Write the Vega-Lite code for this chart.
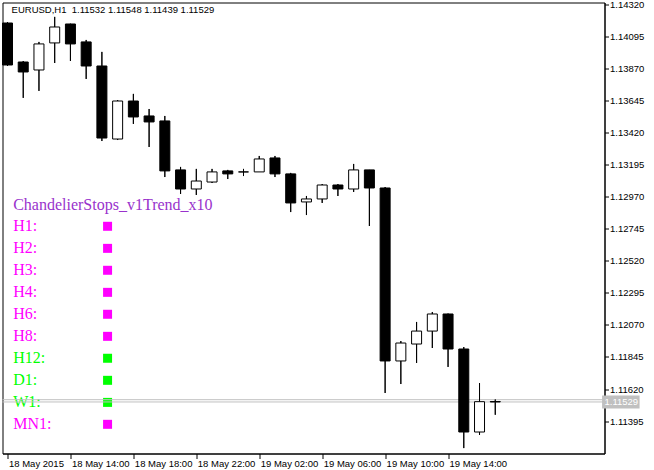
{
  "$schema": "https://vega.github.io/schema/vega-lite/v6.json",
  "width": 602,
  "height": 451,
  "autosize": {"type": "none"},
  "padding": {"left": 2.5, "top": 2.5, "right": 49.5, "bottom": 16.5},
  "background": "white",
  "config": {
    "view": {"stroke": "black", "strokeWidth": 1},
    "axis": {"grid": false, "domainColor": "black", "tickColor": "black", "labelColor": "black", "labelFont": "Liberation Sans", "labelFontSize": 9.5}
  },
  "datasets": {
    "candles": [
      {"i": 0, "time": "2015-05-18 10:00", "open": 1.14191, "high": 1.14198, "low": 1.13889, "close": 1.13896},
      {"i": 1, "time": "2015-05-18 11:00", "open": 1.13917, "high": 1.13924, "low": 1.13665, "close": 1.13847},
      {"i": 2, "time": "2015-05-18 12:00", "open": 1.13861, "high": 1.14058, "low": 1.13714, "close": 1.14044},
      {"i": 3, "time": "2015-05-18 13:00", "open": 1.14051, "high": 1.14234, "low": 1.13910, "close": 1.14163},
      {"i": 4, "time": "2015-05-18 14:00", "open": 1.14184, "high": 1.14186, "low": 1.13924, "close": 1.14044},
      {"i": 5, "time": "2015-05-18 15:00", "open": 1.14058, "high": 1.14072, "low": 1.13798, "close": 1.13889},
      {"i": 6, "time": "2015-05-18 16:00", "open": 1.13889, "high": 1.13988, "low": 1.13362, "close": 1.13383},
      {"i": 7, "time": "2015-05-18 17:00", "open": 1.13376, "high": 1.13650, "low": 1.13369, "close": 1.13643},
      {"i": 8, "time": "2015-05-18 18:00", "open": 1.13643, "high": 1.13693, "low": 1.13482, "close": 1.13531},
      {"i": 9, "time": "2015-05-18 19:00", "open": 1.13538, "high": 1.13587, "low": 1.13320, "close": 1.13496},
      {"i": 10, "time": "2015-05-18 20:00", "open": 1.13503, "high": 1.13538, "low": 1.13109, "close": 1.13152},
      {"i": 11, "time": "2015-05-18 21:00", "open": 1.13159, "high": 1.13180, "low": 1.12990, "close": 1.13025},
      {"i": 12, "time": "2015-05-18 22:00", "open": 1.13025, "high": 1.13166, "low": 1.12983, "close": 1.13081},
      {"i": 13, "time": "2015-05-18 23:00", "open": 1.13074, "high": 1.13166, "low": 1.13067, "close": 1.13145},
      {"i": 14, "time": "2015-05-19 00:00", "open": 1.13152, "high": 1.13159, "low": 1.13095, "close": 1.13131},
      {"i": 15, "time": "2015-05-19 01:00", "open": 1.13145, "high": 1.13166, "low": 1.13116, "close": 1.13145},
      {"i": 16, "time": "2015-05-19 02:00", "open": 1.13145, "high": 1.13257, "low": 1.13145, "close": 1.13236},
      {"i": 17, "time": "2015-05-19 03:00", "open": 1.13243, "high": 1.13257, "low": 1.13109, "close": 1.13131},
      {"i": 18, "time": "2015-05-19 04:00", "open": 1.13131, "high": 1.13138, "low": 1.12863, "close": 1.12927},
      {"i": 19, "time": "2015-05-19 05:00", "open": 1.12934, "high": 1.12976, "low": 1.12842, "close": 1.12955},
      {"i": 20, "time": "2015-05-19 06:00", "open": 1.12955, "high": 1.13060, "low": 1.12927, "close": 1.13053},
      {"i": 21, "time": "2015-05-19 07:00", "open": 1.13053, "high": 1.13060, "low": 1.12976, "close": 1.13025},
      {"i": 22, "time": "2015-05-19 08:00", "open": 1.13025, "high": 1.13201, "low": 1.13004, "close": 1.13159},
      {"i": 23, "time": "2015-05-19 09:00", "open": 1.13159, "high": 1.13159, "low": 1.12765, "close": 1.13032},
      {"i": 24, "time": "2015-05-19 10:00", "open": 1.13032, "high": 1.13039, "low": 1.11592, "close": 1.11817},
      {"i": 25, "time": "2015-05-19 11:00", "open": 1.11817, "high": 1.11957, "low": 1.11655, "close": 1.11943},
      {"i": 26, "time": "2015-05-19 12:00", "open": 1.11936, "high": 1.12091, "low": 1.11803, "close": 1.12027},
      {"i": 27, "time": "2015-05-19 13:00", "open": 1.12027, "high": 1.12161, "low": 1.11908, "close": 1.12147},
      {"i": 28, "time": "2015-05-19 14:00", "open": 1.12147, "high": 1.12150, "low": 1.11775, "close": 1.11901},
      {"i": 29, "time": "2015-05-19 15:00", "open": 1.11901, "high": 1.11915, "low": 1.11205, "close": 1.11318},
      {"i": 30, "time": "2015-05-19 16:00", "open": 1.11318, "high": 1.11662, "low": 1.11297, "close": 1.11531},
      {"i": 31, "time": "2015-05-19 17:00", "open": 1.11532, "high": 1.11548, "low": 1.11439, "close": 1.11529}
    ],
    "indicator": [
      {"label": "ChandelierStops_v1Trend_x10", "signal": "title", "level": 1.12916},
      {"label": "H1:", "signal": "down", "level": 1.12763},
      {"label": "H2:", "signal": "down", "level": 1.12608},
      {"label": "H3:", "signal": "down", "level": 1.12454},
      {"label": "H4:", "signal": "down", "level": 1.12299},
      {"label": "H6:", "signal": "down", "level": 1.12145},
      {"label": "H8:", "signal": "down", "level": 1.11990},
      {"label": "H12:", "signal": "up", "level": 1.11836},
      {"label": "D1:", "signal": "up", "level": 1.11681},
      {"label": "W1:", "signal": "up", "level": 1.11526},
      {"label": "MN1:", "signal": "down", "level": 1.11372}
    ],
    "lines": [
      {"line": "ask", "price": 1.11545},
      {"line": "bid", "price": 1.11529}
    ],
    "header": [
      {"text": "EURUSD,H1\u00a0 1.11532 1.11548 1.11439 1.11529"}
    ]
  },
  "layer": [
    {
      "data": {"name": "candles"},
      "mark": {"type": "rule", "color": "black", "strokeWidth": 1},
      "encoding": {
        "x": {"field": "i", "type": "quantitative", "scale": {"domain": [0, 37.625], "nice": false, "zero": false},
          "axis": {"orient": "bottom", "title": null, "values": [0, 4, 8, 12, 16, 20, 24, 28], "tickCount": 40, "tickSize": 5, "labelPadding": 0, "labelAlign": "left", "labelOffset": 1, "labelFlush": false, "labelOverlap": false, "domain": true,
            "labelExpr": "['18 May 2015','18 May 14:00','18 May 18:00','18 May 22:00','19 May 02:00','19 May 06:00','19 May 10:00','19 May 14:00'][round(datum.value/4)]"}},
        "y": {"field": "high", "type": "quantitative", "scale": {"domain": [1.11167, 1.14335], "nice": false, "zero": false},
          "axis": {"orient": "right", "title": null, "values": [1.11395, 1.1162, 1.11845, 1.1207, 1.12295, 1.1252, 1.12745, 1.1297, 1.13195, 1.1342, 1.13645, 1.1387, 1.14095, 1.1432], "tickCount": 40, "format": ".5f", "tickSize": 4, "labelPadding": 1, "labelOverlap": false, "labelFlush": false, "domain": true}},
        "y2": {"field": "low"}
      }
    },
    {
      "data": {"name": "indicator"},
      "mark": {"type": "text", "align": "left", "baseline": "middle", "font": "Liberation Serif", "fontSize": 16},
      "encoding": {
        "x": {"datum": 0.36, "type": "quantitative", "scale": {"domain": [0, 37.625], "nice": false, "zero": false}},
        "y": {"field": "level", "type": "quantitative", "scale": {"domain": [1.11167, 1.14335], "nice": false, "zero": false}},
        "text": {"field": "label"},
        "color": {"field": "signal", "type": "nominal", "scale": {"domain": ["title", "down", "up"], "range": ["#9932CC", "#FF00FF", "#00FF00"]}, "legend": null}
      }
    },
    {
      "data": {"name": "indicator"},
      "transform": [{"filter": "datum.signal != 'title'"}],
      "mark": {"type": "point", "shape": "square", "filled": true, "size": 81, "opacity": 1, "strokeWidth": 0},
      "encoding": {
        "x": {"datum": 6.36, "type": "quantitative", "scale": {"domain": [0, 37.625], "nice": false, "zero": false}},
        "y": {"field": "level", "type": "quantitative", "scale": {"domain": [1.11167, 1.14335], "nice": false, "zero": false}},
        "color": {"field": "signal", "type": "nominal", "scale": {"domain": ["title", "down", "up"], "range": ["#9932CC", "#FF00FF", "#00FF00"]}, "legend": null}
      }
    },
    {
      "data": {"name": "lines"},
      "mark": {"type": "rule", "color": "#c0c0c0", "strokeWidth": 1},
      "encoding": {
        "y": {"field": "price", "type": "quantitative", "scale": {"domain": [1.11167, 1.14335], "nice": false, "zero": false}}
      }
    },
    {
      "data": {"name": "candles"},
      "mark": {"type": "rule", "color": "black", "strokeWidth": 1},
      "encoding": {
        "x": {"field": "i", "type": "quantitative", "scale": {"domain": [0, 37.625], "nice": false, "zero": false}},
        "y": {"field": "high", "type": "quantitative", "scale": {"domain": [1.11167, 1.14335], "nice": false, "zero": false}},
        "y2": {"field": "low"}
      }
    },
    {
      "data": {"name": "candles"},
      "mark": {"type": "bar", "width": 10, "stroke": "black", "strokeWidth": 1, "opacity": 1},
      "encoding": {
        "x": {"field": "i", "type": "quantitative", "scale": {"domain": [0, 37.625], "nice": false, "zero": false}},
        "y": {"field": "open", "type": "quantitative", "scale": {"domain": [1.11167, 1.14335], "nice": false, "zero": false}},
        "y2": {"field": "close"},
        "fill": {"condition": {"test": "datum.close > datum.open", "value": "white"}, "value": "black"}
      }
    },
    {
      "data": {"name": "header"},
      "mark": {"type": "text", "align": "left", "baseline": "alphabetic", "font": "Liberation Sans", "fontSize": 9.5, "color": "black"},
      "encoding": {
        "x": {"datum": 0.26, "type": "quantitative", "scale": {"domain": [0, 37.625], "nice": false, "zero": false}},
        "y": {"datum": 1.14262, "type": "quantitative", "scale": {"domain": [1.11167, 1.14335], "nice": false, "zero": false}},
        "text": {"field": "text"}
      }
    },
    {
      "data": {"name": "lines"},
      "transform": [{"filter": "datum.line == 'bid'"}],
      "mark": {"type": "point", "shape": "M-1,-0.347L1,-0.347L1,0.347L-1,0.347Z", "filled": true, "size": 1406, "opacity": 1, "color": "#c0c0c0", "strokeWidth": 0},
      "encoding": {
        "x": {"datum": 38.98, "type": "quantitative", "scale": {"domain": [0, 37.625], "nice": false, "zero": false}},
        "y": {"field": "price", "type": "quantitative", "scale": {"domain": [1.11167, 1.14335], "nice": false, "zero": false}}
      }
    },
    {
      "data": {"name": "lines"},
      "transform": [{"filter": "datum.line == 'bid'"}],
      "mark": {"type": "text", "align": "left", "baseline": "middle", "font": "Liberation Sans", "fontSize": 9.5, "color": "white"},
      "encoding": {
        "x": {"datum": 37.94, "type": "quantitative", "scale": {"domain": [0, 37.625], "nice": false, "zero": false}},
        "y": {"field": "price", "type": "quantitative", "scale": {"domain": [1.11167, 1.14335], "nice": false, "zero": false}},
        "text": {"field": "price", "type": "quantitative", "format": ".5f"}
      }
    }
  ]
}
